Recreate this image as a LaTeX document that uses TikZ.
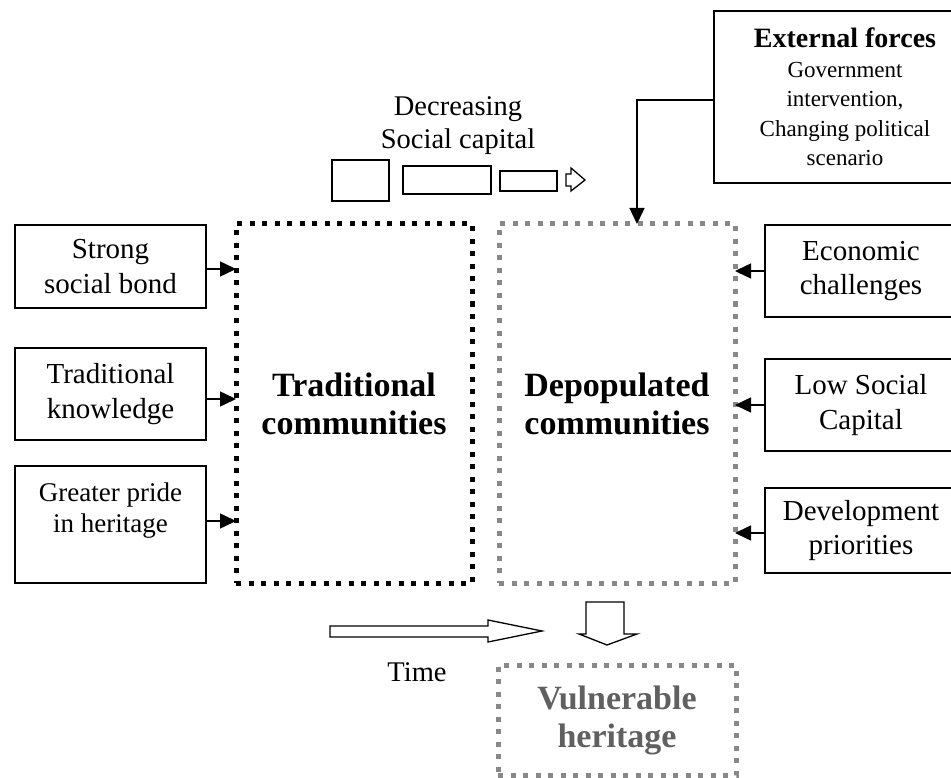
\documentclass[tikz,border=0pt]{standalone}
\usepackage{fontspec}
\setmainfont{Liberation Serif}
\usetikzlibrary{arrows.meta}
\definecolor{dotgray}{HTML}{888888}
\definecolor{textgray}{HTML}{606060}
\begin{document}
\begin{tikzpicture}[x=1pt,y=-1pt,
  box/.style={draw, line width=1.5pt, inner sep=0pt, outer sep=0pt, align=center},
  sidebox/.style={box, minimum width=191pt, font=\fontsize{29}{34.5}\selectfont},
  rightbox/.style={box, minimum width=192pt, font=\fontsize{29}{34.5}\selectfont},
  dotbox/.style={draw, line width=5pt, dash pattern=on 5pt off 7.5pt, inner sep=0pt, outer sep=0pt, align=center,
    font=\fontsize{34}{38}\selectfont\bfseries},
  arr/.style={line width=1.5pt, -{Triangle[length=16pt,width=15pt]}},
  hollow/.style={draw, line width=1.3pt, fill=white, line join=miter}
]
\useasboundingbox (0,0) rectangle (951,778);
\clip (0,0) rectangle (951,778);

% central community blocks
\node[dotbox, minimum width=236pt, minimum height=359pt] (trad) at (354,403.5) {Traditional\\communities};
\node[dotbox, draw=dotgray, minimum width=236pt, minimum height=359pt] (dep) at (617,403.5) {Depopulated\\communities};
\node[dotbox, draw=dotgray, text=textgray, minimum width=238pt, minimum height=110pt] (vul) at (617,720) {Vulnerable\\heritage};

% factors on the left
\node[sidebox, minimum height=83pt] (strong) at (110.5,266.5) {Strong\\social bond};
\node[sidebox, minimum height=92pt] (know) at (110.5,394) {Traditional\\knowledge};
\node[sidebox, minimum height=117pt] (pride) at (110.5,524.5) {};
\node[font=\fontsize{27}{31}\selectfont, align=center] (pridetext) at (110.5,511) {Greater pride\\in heritage};

% factors on the right (running past the right margin)
\node[rightbox, minimum height=92pt] (econ) at (861,271) {Economic\\challenges};
\node[rightbox, minimum height=92pt] (low) at (861,405) {Low Social\\Capital};
\node[rightbox, minimum height=85pt] (devp) at (861,530.5) {Development\\priorities};

% external forces
\node[box, minimum width=262pt, minimum height=172pt, font=\fontsize{23}{29.5}\selectfont] (ext) at (845,97)
  {{\fontsize{28}{30}\selectfont\bfseries External forces}\\Government\\intervention,\\Changing political\\scenario};

% connectors
\draw[arr] (strong.east |- 0,269) -- (trad.west |- 0,269);
\draw[arr] (know.east |- 0,399) -- (trad.west |- 0,399);
\draw[arr] (pride.east |- 0,521) -- (trad.west |- 0,521);
\draw[arr] (econ.west) -- (econ.west -| dep.east);
\draw[arr] (low.west) -- (low.west -| dep.east);
\draw[arr] (devp.west |- 0,533) -- (dep.east |- 0,533);
\draw[arr] (ext.west |- 0,100) -| ([xshift=20pt]dep.north);

% decreasing social capital
\node[font=\fontsize{28.5}{33}\selectfont, align=center] (dec) at (458,126) {Decreasing\\Social capital};
\node[box, minimum width=57pt, minimum height=41pt] (c1) at (360.5,180.5) {};
\node[box, minimum width=88pt, minimum height=28pt] (c2) at (447,180) {};
\node[box, minimum width=57pt, minimum height=20pt] (c3) at (528.5,181) {};
\draw[hollow] (566,174) -- (571,174) -- (571,168) -- (585,180) -- (571,191) -- (571,186) -- (566,186) -- cycle;

% time arrow
\draw[hollow] (330,626) -- (488,626) -- (488,620) -- (542,631) -- (488,642) -- (488,637) -- (330,637) -- cycle;
\node[font=\fontsize{28.5}{33}\selectfont] (time) at (417,672) {Time};

% arrow down to vulnerable heritage
\draw[hollow] (586,602) -- (624,602) -- (624,634) -- (637,634) -- (607,645) -- (579,634) -- (586,634) -- cycle;
\end{tikzpicture}
\end{document}
